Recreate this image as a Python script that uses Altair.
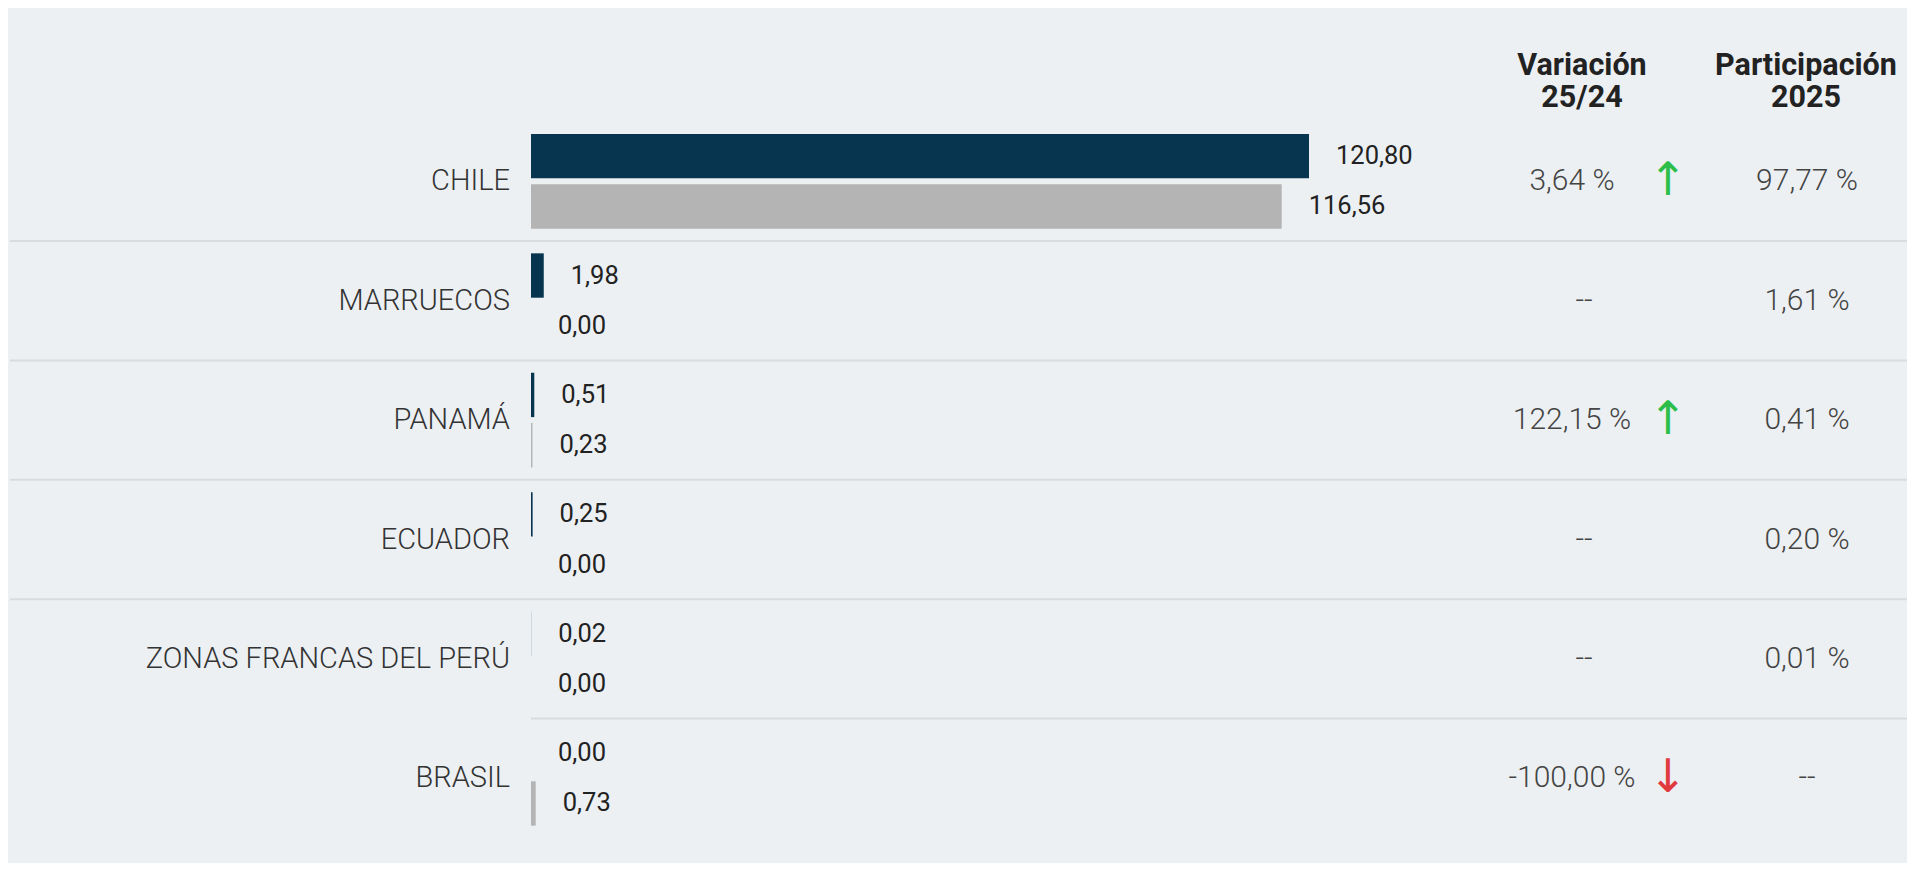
import altair as alt
import pandas as pd

# ---- data ----
countries = ["CHILE", "MARRUECOS", "PANAMÁ", "ECUADOR", "ZONAS FRANCAS DEL PERÚ", "BRASIL"]
values_2025 = [120.80, 1.98, 0.51, 0.25, 0.02, 0.00]
values_2024 = [116.56, 0.00, 0.23, 0.00, 0.00, 0.73]
variacion = ["3,64 %", "--", "122,15 %", "--", "--", "-100,00 %"]
tendencia = ["up", "", "up", "", "", "down"]
participacion = ["97,77 %", "1,61 %", "0,41 %", "0,20 %", "0,01 %", "--"]
years = ["2025", "2024"]
headers = ["Variación\n25/24", "Participación\n2025"]

BG = "#ECF0F3"
NAVY = "#07344F"
GREY = "#B4B4B4"
FONT = "Roboto"

W, H = 1899, 855
Y0, Y1 = 113.6, 830.0

def fmt(v):
    return f"{v:.2f}".replace(".", ",")

bars = pd.DataFrame(
    [{"country": c, "year": "2025", "value": a, "label": fmt(a)} for c, a in zip(countries, values_2025)]
    + [{"country": c, "year": "2024", "value": b, "label": fmt(b)} for c, b in zip(countries, values_2024)]
)
rows = pd.DataFrame({
    "country": countries,
    "variacion": variacion,
    "tendencia": tendencia,
    "participacion": participacion,
    "arrow": ["↑" if t == "up" else ("↓" if t == "down" else "") for t in tendencia],
})
# row boundaries (below each row except the last)
seps = pd.DataFrame({"boundary": list(range(1, len(countries))),
                     "full": [b < len(countries) - 1 for b in range(1, len(countries))]})

y_scale = alt.Scale(domain=countries, range=[Y0, Y1], paddingInner=0, paddingOuter=0)
x_scale = alt.Scale(domain=[0, 120.8], range=[523, 1301], nice=False, zero=True)
yoff_scale = alt.Scale(domain=years, paddingInner=0.119, paddingOuter=0.245)
yq_scale = alt.Scale(domain=[0, len(countries)], range=[Y0, Y1], nice=False, zero=False)

Y = alt.Y("country:N", scale=y_scale, axis=None, sort=countries)
X = alt.X("value:Q", scale=x_scale, axis=None)
YO = alt.YOffset("year:N", scale=yoff_scale, sort=years)

base_bars = alt.Chart(bars)

bar_layer = base_bars.mark_bar().encode(
    x=X, y=Y, yOffset=YO,
    color=alt.Color("year:N", scale=alt.Scale(domain=years, range=[NAVY, GREY]), legend=None),
)

bar_text = base_bars.mark_text(
    align="left", baseline="middle", dx=27, font=FONT, fontSize=25.5, fontWeight=400, color="#222222"
).encode(x=X, y=Y, yOffset=YO, text="label:N")

base_rows = alt.Chart(rows)

country_text = base_rows.mark_text(
    align="right", baseline="middle", font=FONT, fontSize=29, fontWeight=300, color="#333333"
).encode(x=alt.value(502), y=Y, text="country:N")

sep_rules = alt.Chart(seps).transform_filter("datum.full").mark_rule(color="#D9DCDF", strokeWidth=2).encode(
    x=alt.value(2), x2=alt.value(W),
    y=alt.Y("boundary:Q", scale=yq_scale, axis=None),
)
last_rule = alt.Chart(seps).transform_filter("!datum.full").mark_rule(color="#D9DCDF", strokeWidth=2).encode(
    x=alt.value(523), x2=alt.value(W),
    y=alt.Y("boundary:Q", scale=yq_scale, axis=None),
)

var_num = base_rows.transform_filter("datum.tendencia != ''").mark_text(
    align="center", baseline="middle", font=FONT, fontSize=30, fontWeight=300, color="#444444"
).encode(x=alt.value(1564), y=Y, text="variacion:N")
var_dash = base_rows.transform_filter("datum.tendencia == ''").mark_text(
    align="center", baseline="middle", font=FONT, fontSize=30, fontWeight=300, color="#444444"
).encode(x=alt.value(1576), y=Y, text="variacion:N")

arrow_up = base_rows.transform_filter("datum.tendencia == 'up'").mark_text(
    align="center", baseline="middle", font="DejaVu Sans", fontSize=46, color="#2DBE4A"
).encode(x=alt.value(1660), y=Y, text="arrow:N")
arrow_down = base_rows.transform_filter("datum.tendencia == 'down'").mark_text(
    align="center", baseline="middle", font="DejaVu Sans", fontSize=46, color="#E0393E"
).encode(x=alt.value(1660), y=Y, text="arrow:N")

part_text = base_rows.mark_text(
    align="center", baseline="middle", font=FONT, fontSize=30, fontWeight=300, color="#444444"
).encode(x=alt.value(1799), y=Y, text="participacion:N")

hdr = pd.DataFrame({"header": headers, "col": ["var", "part"]})
hdr_var = alt.Chart(hdr).transform_filter("datum.col == 'var'").mark_text(
    align="center", baseline="middle", lineBreak="\n", lineHeight=32, font=FONT, fontSize=30.5,
    fontWeight="bold", color="#222222"
).encode(x=alt.value(1574), y=alt.value(58), text="header:N")
hdr_part = alt.Chart(hdr).transform_filter("datum.col == 'part'").mark_text(
    align="center", baseline="middle", lineBreak="\n", lineHeight=32, font=FONT, fontSize=30.5,
    fontWeight="bold", color="#222222"
).encode(x=alt.value(1798), y=alt.value(58), text="header:N")

chart = alt.layer(
    sep_rules, last_rule, bar_layer, bar_text, country_text, var_num, var_dash,
    arrow_up, arrow_down, part_text, hdr_var, hdr_part
).resolve_scale(y="independent").properties(
    width=W, height=H, background=BG, padding=0,
    autosize=alt.AutoSizeParams(type="none"),
).configure_view(stroke=None)

chart.save("out.html", embed_options={"renderer": "svg", "actions": False})
